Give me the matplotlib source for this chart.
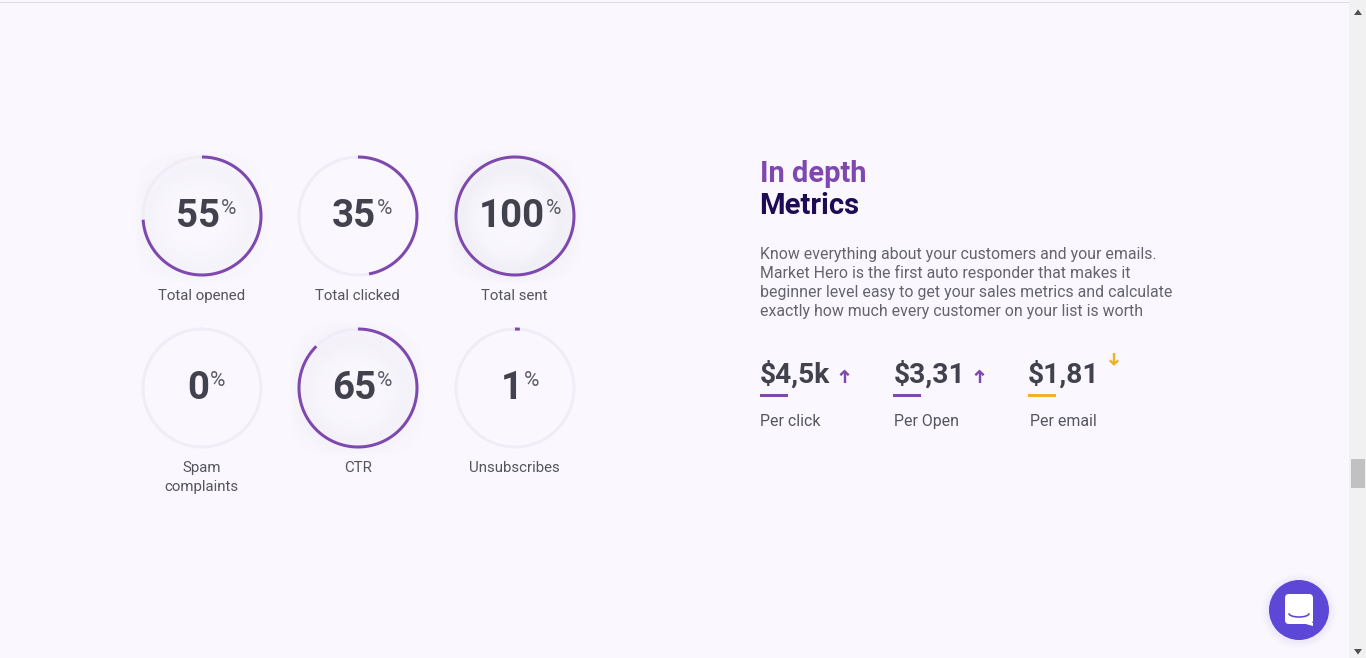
import numpy as np
import matplotlib
matplotlib.use("Agg")
import matplotlib.pyplot as plt
from matplotlib.patches import Rectangle, Circle, FancyBboxPatch, Polygon

# ---- data ----
gauge_values = [55, 35, 100, 0, 65, 1]
gauge_arcs = [0.74, 0.47, 1.00, 0.0, 0.875, 0.013]   # drawn sweep
gauge_labels = ["Total opened", "Total clicked", "Total sent", "Spam\ncomplaints", "CTR", "Unsubscribes"]
stat_values = ["$4,5k", "$3,31", "$1,81"]
stat_labels = ["Per click", "Per Open", "Per email"]
stat_up = [True, True, False]
title_top = "In depth"
title_bottom = "Metrics"
paragraph = ["Know everything about your customers and your emails.",
             "Market Hero is the first auto responder that makes it",
             "beginner level easy to get your sales metrics and calculate",
             "exactly how much every customer on your list is worth"]

# ---- layout / style ----
gauge_x = [202, 358, 515, 202, 358, 515]
gauge_y = [216, 216, 216, 388, 388, 388]
stat_x = [760, 894, 1029]
R = 59
BG = "#FAF8FE"; PURPLE = "#7F48AE"; TRACK = "#F0ECF8"; DARK = "#41424E"; GREY = "#55555F"
YELLOW = "#EFB02B"; NAVY = "#1E0B54"; BLUE = "#5D47D6"
px = 0.72
plt.rcParams["font.family"] = ["Roboto", "DejaVu Sans"]

fig = plt.figure(figsize=(13.66, 6.58), dpi=100, facecolor=BG)
ax = fig.add_axes([0, 0, 1, 1])
ax.axis("off")

def shadow(cx, cy, strength):
    half = 70
    n = 140
    g = np.linspace(-half, half, n)
    X, Y = np.meshgrid(g, g)
    r = np.hypot(X + 3, Y - 3)
    a = np.exp(-((r - 50) / 19.0) ** 2) * 0.06
    a = np.where(r < 50, 0.006 + (a - 0.006) * np.clip(r / 50, 0, 1) ** 2, a)
    edge = np.clip((half - np.maximum(np.abs(X), np.abs(Y))) / 8, 0, 1)
    img = np.zeros((n, n, 4))
    img[..., :3] = matplotlib.colors.to_rgb("#6F6A80")
    img[..., 3] = a * edge * strength
    ax.imshow(img, extent=(cx - half, cx + half, cy + half, cy - half), aspect="auto", zorder=1, interpolation="bilinear")

pct_offset = {55: 18, 35: 18, 100: 30, 0: 7, 65: 18, 1: 8}
for cx, cy, v, arc, lab in zip(gauge_x, gauge_y, gauge_values, gauge_arcs, gauge_labels):
    if arc > 0.5:
        shadow(cx, cy, arc ** 2)
    t = np.linspace(0, 2 * np.pi, 400)
    ax.plot(cx + R * np.sin(t), cy - R * np.cos(t), color=TRACK, lw=3 * px, zorder=2)
    if arc > 0:
        t = np.linspace(0, 2 * np.pi * arc, 400)
        ax.plot(cx + R * np.sin(t), cy - R * np.cos(t), color=PURPLE, lw=3 * px, zorder=3,
                solid_capstyle="butt")
    off = pct_offset[v]
    ax.text(cx + off, cy + 11, str(v), fontsize=38.5 * px, fontweight="bold", color=DARK,
            ha="right", va="baseline", zorder=4)
    ax.text(cx + off + 1, cy - 2.5, "%", fontsize=21 * px, color="#5A5B66",
            ha="left", va="baseline", zorder=4)
    for i, s in enumerate(lab.split("\n")):
        ax.text(cx - 0.5 + (0.5 if lab == "CTR" else 0), cy + 84 + 19 * i, s, fontsize=15 * px, color=GREY,
                ha="center", va="baseline", zorder=4)

ax.text(759.6, 182, title_top, fontsize=29 * px, fontweight="bold", color=PURPLE, va="baseline")
ax.text(759.3, 214, title_bottom, fontsize=29.2 * px, fontweight="bold", color=NAVY, va="baseline")
for i, line in enumerate(paragraph):
    ax.text(759.8, 259 + 19 * i, line, fontsize=15.88 * px, color="#65646E", va="baseline")

arrow_x = [844.5, 979.5, 1114]
arrow_y = [377, 377, 358.5]
text_dx = [-0.5, -0.5, -1]
label_dx = [-0.5, -0.5, 0.5]
for x, axx, ay, tdx, ldx, val, lab, up in zip(stat_x, arrow_x, arrow_y, text_dx, label_dx, stat_values, stat_labels, stat_up):
    c = PURPLE if up else YELLOW
    ax.text(x + tdx, 383, val, fontsize=28.3 * px, fontweight="bold", color=DARK, va="baseline")
    ax.add_patch(Rectangle((x - 0.5 if x == 760 else x - 1, 394), 28, 3, color=c, lw=0, zorder=3))
    ax.text(x + ldx, 426, lab, fontsize=15.88 * px, color=GREY, va="baseline")
    d = -1 if up else 1
    ax.plot([axx, axx], [ay - 6 * d, ay + 5.5 * d], color=c, lw=2.4 * px, solid_capstyle="butt", zorder=3)
    ax.plot([axx - 4.2, axx, axx + 4.2], [ay + d * 1.8, ay + d * 5.8, ay + d * 1.8], color=c, lw=2.4 * px,
            solid_capstyle="butt", solid_joinstyle="miter", zorder=3)

# browser chrome
ax.add_patch(Rectangle((1349, 0), 17, 658, color="#F1F1F1", lw=0, zorder=5))
ax.add_patch(Rectangle((1351, 459), 14, 29, color="#C1C1C1", lw=0, zorder=6))
ax.add_patch(Rectangle((0, 2), 1349, 1, color="#DEDCE2", lw=0, zorder=6))
ax.add_patch(Polygon([(1354, 15), (1362, 15), (1358, 9.5)], color="#505050", lw=0, zorder=6))
ax.add_patch(Polygon([(1354, 649), (1362, 649), (1358, 654.5)], color="#505050", lw=0, zorder=6))

# chat launcher
for r, a in zip([38, 36, 34, 32], [0.012, 0.015, 0.02, 0.025]):
    ax.add_patch(Circle((1299, 611), r, color="#5D47D6", alpha=a, lw=0, zorder=6))
ax.add_patch(Circle((1299, 610), 30, color=BLUE, lw=0, zorder=7))
ax.add_patch(FancyBboxPatch((1288, 597), 22, 24, boxstyle="round,pad=3,rounding_size=4", fc="white", ec="none", zorder=8))
ax.add_patch(Polygon([(1302, 623), (1313, 623), (1313, 626)], color="white", lw=0, zorder=8))
t = np.linspace(0.15, np.pi - 0.15, 40)
ax.plot(1299 + 10 * np.cos(t), 613.5 + 3.5 * np.sin(t), color=BLUE, lw=1.6 * px, zorder=9)

ax.set_xlim(0, 1366)
ax.set_ylim(658, 0)
fig.savefig("out.png", dpi=100, facecolor=BG)
